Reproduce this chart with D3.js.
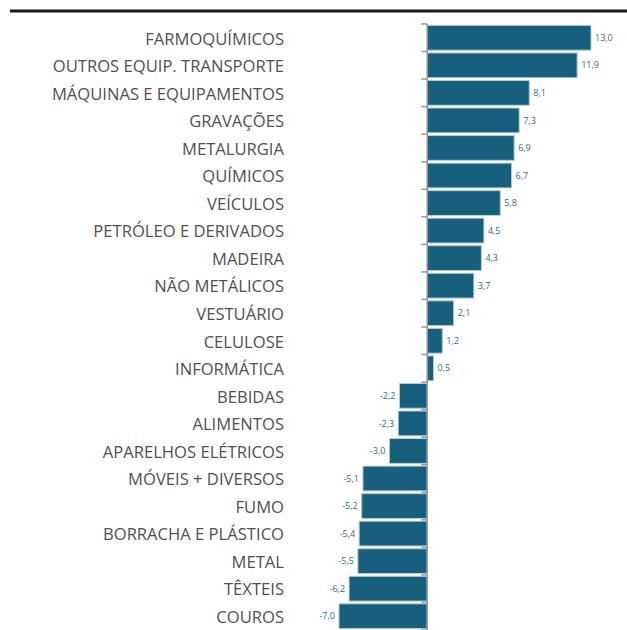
<!DOCTYPE html>
<html lang="pt">
<head>
<meta charset="UTF-8">
<script src="https://cdn.jsdelivr.net/npm/d3@7/dist/d3.min.js"></script>
<style>
    body{margin:0;background:#fff;}
    svg{display:block;}
</style>
</head>
<body>
<div id="chart"></div>
<script>
// setores e variação (%)
var categorias=["FARMOQUÍMICOS","OUTROS EQUIP. TRANSPORTE","MÁQUINAS E EQUIPAMENTOS","GRAVAÇÕES",
    "METALURGIA","QUÍMICOS","VEÍCULOS","PETRÓLEO E DERIVADOS","MADEIRA","NÃO METÁLICOS",
    "VESTUÁRIO","CELULOSE","INFORMÁTICA","BEBIDAS","ALIMENTOS","APARELHOS ELÉTRICOS",
    "MÓVEIS + DIVERSOS","FUMO","BORRACHA E PLÁSTICO","METAL","TÊXTEIS","COUROS"];
var valores=[13.0,11.9,8.1,7.3,6.9,6.7,5.8,4.5,4.3,3.7,2.1,1.2,0.5,
    -2.2,-2.3,-3.0,-5.1,-5.2,-5.4,-5.5,-6.2,-7.0];

var width=627,height=630;
var svg=d3.select('#chart').append('svg')
    .attr('width',width).attr('height',height);

// linha preta do topo
svg.append('line')
    .attr('x1',10).attr('x2',width)
    .attr('y1',11).attr('y2',11)
    .attr('stroke','#1a1a1a').attr('stroke-width',3);

var x=d3.scaleLinear().domain([-7,13]).range([339,591]);
var y=d3.scaleBand().domain(categorias).range([24,630]).paddingInner(0.1).paddingOuter(0.05);

// barras
svg.append('g').selectAll('rect')
    .data(valores)
    .join('rect')
    .attr('x',function(d){return x(Math.min(0,d));})
    .attr('y',function(d,i){return y(categorias[i]);})
    .attr('width',function(d){return Math.abs(x(d)-x(0));})
    .attr('height',y.bandwidth())
    .attr('fill','#17607d')
    .attr('stroke','#b9c9d2')
    .attr('stroke-width',1);

// eixo vertical com ticks nas divisões
var ax=svg.append('g');
ax.append('line')
    .attr('x1',x(0)).attr('x2',x(0))
    .attr('y1',24).attr('y2',630)
    .attr('stroke','#999').attr('stroke-width',1.5);
var step=y.step();
ax.selectAll('.tk')
    .data(d3.range(categorias.length+1))
    .join('line')
    .attr('class','tk')
    .attr('x1',x(0)-6).attr('x2',x(0))
    .attr('y1',function(i){return 24+i*step;})
    .attr('y2',function(i){return 24+i*step;})
    .attr('stroke','#999').attr('stroke-width',1.5);

// rótulos das categorias
svg.append('g').selectAll('text')
    .data(categorias)
    .join('text')
    .attr('x',284)
    .attr('y',function(d){return y(d)+y.bandwidth()/2+1;})
    .attr('dy','0.35em')
    .attr('text-anchor','end')
    .style('font-family','"Open Sans", sans-serif')
    .style('font-size','16.6px')
    .style('fill','#505050')
    .text(function(d){return d;});

// rótulos de valor
var fmt=function(v){return v.toFixed(1).replace('.',',');};
svg.append('g').selectAll('text')
    .data(valores)
    .join('text')
    .attr('x',function(d){return d>=0?x(d)+4:x(d)-4;})
    .attr('y',function(d,i){return y(categorias[i])+y.bandwidth()/2;})
    .attr('dy','0.35em')
    .attr('text-anchor',function(d){return d>=0?'start':'end';})
    .style('font-family','"Open Sans", sans-serif')
    .style('font-size','9px')
    .style('fill','#2f6b88')
    .text(fmt);
</script>
</body>
</html>
